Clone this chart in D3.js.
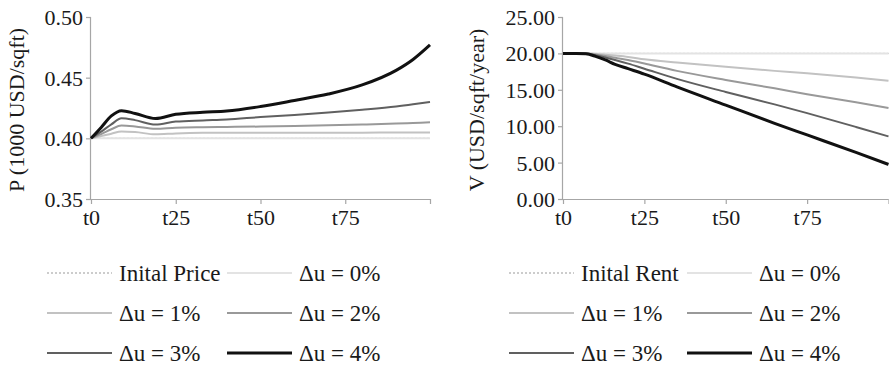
<!DOCTYPE html>
<html><head><meta charset="utf-8">
<script src="https://cdn.jsdelivr.net/npm/d3@7"></script>
</head><body style="margin:0">
<svg id="c" width="889" height="368" font-family="Liberation Serif"></svg>
<script>
// ---- data ----
const seriesNames = ["Δu = 0%", "Δu = 1%", "Δu = 2%", "Δu = 3%", "Δu = 4%"];
const xTickLabels = ["t0", "t25", "t50", "t75"];
const xTickValues = [0, 25, 50, 75];

// Price chart (P, 1000 USD/sqft)
const priceT = [0, 3, 6, 9, 13, 19, 25, 33, 40, 50, 60, 70, 80, 90, 95, 100];
const initialPrice = [0.400,0.400,0.400,0.400,0.400,0.400,0.400,0.400,0.400,0.400,0.400,0.400,0.400,0.400,0.400,0.400];
const priceU0 = [0.400,0.400,0.400,0.400,0.400,0.400,0.400,0.400,0.400,0.400,0.400,0.400,0.400,0.400,0.400,0.400];
const priceU1 = [0.400,0.4018,0.4038,0.4057,0.4052,0.4033,0.4040,0.4045,0.4046,0.4046,0.4047,0.4047,0.4047,0.4048,0.4048,0.4048];
const priceU2 = [0.400,0.4035,0.4075,0.4105,0.4098,0.4078,0.4088,0.4092,0.4094,0.4097,0.4101,0.4107,0.4114,0.4122,0.4127,0.4132];
const priceU3 = [0.400,0.4055,0.4115,0.4165,0.4150,0.4113,0.4138,0.4148,0.4155,0.4175,0.4192,0.4212,0.4235,0.4262,0.4280,0.4300];
const priceU4 = [0.400,0.409,0.4185,0.4228,0.4205,0.4163,0.4198,0.4215,0.4225,0.4262,0.4312,0.4365,0.4440,0.4560,0.4650,0.4770];
const priceTicks = [0.35, 0.40, 0.45, 0.50];

// Rent chart (V, USD/sqft/year)
const rentT = [0, 4, 7, 10, 13, 16, 20, 25, 35, 50, 65, 75, 90, 100];
const initialRent = [20,20,20,20,20,20,20,20,20,20,20,20,20,20];
const rentU0 = [20,20,20,20,20,20,20,20,20,20,20,20,20,20];
const rentU1 = [20,20,20,19.93,19.82,19.7,19.52,19.2,18.75,18.15,17.6,17.27,16.7,16.25];
const rentU2 = [20,20,19.99,19.85,19.65,19.4,19.1,18.6,17.6,16.35,15.2,14.4,13.3,12.5];
const rentU3 = [20,20,19.98,19.75,19.45,19.1,18.6,17.9,16.5,14.7,13.0,11.8,9.9,8.6];
const rentU4 = [20,20,19.95,19.6,19.1,18.5,17.9,17.15,15.4,12.9,10.4,8.8,6.4,4.75];
const rentTicks = [0, 5, 10, 15, 20, 25];

// ---- styles ----
const styles = [
  {color:"#e3e3e3", w:2},
  {color:"#c2c2c2", w:2},
  {color:"#999999", w:2},
  {color:"#606060", w:2},
  {color:"#111111", w:3}
];
const svg = d3.select("#c");

function panel(opts) {
  const x = d3.scaleLinear().domain([0, 100]).range([opts.x0, opts.x1]);
  const y = d3.scaleLinear().domain(opts.yDomain).range([opts.yBottom, opts.yTop]);
  const g = svg.append("g");

  // axes
  const yAxis = d3.axisLeft(y).tickValues(opts.yTicks).tickSize(5).tickFormat(opts.fmt);
  const ya = g.append("g").attr("transform", `translate(${opts.x0},0)`).call(yAxis);
  const xAxis = d3.axisBottom(x).tickValues([0,25,50,75,100]).tickSize(5)
      .tickFormat(d => { const i = xTickValues.indexOf(d); return i >= 0 ? xTickLabels[i] : ""; });
  const xa = g.append("g").attr("transform", `translate(0,${opts.yBottom})`).call(xAxis);
  [ya, xa].forEach(a => {
    a.attr("font-family", null).attr("font-size", 22);
    a.select(".domain").attr("stroke", "#a6a6a6").attr("stroke-width", 1.2);
    a.selectAll(".tick line").attr("stroke", "#a6a6a6").attr("stroke-width", 1.2);
    a.selectAll("text").attr("fill", "#1a1a1a");
  });
  ya.select(".domain").attr("d", `M-0.5,${opts.yTop}V${opts.yBottom}`);
  ya.selectAll(".tick text").attr("x", -8).attr("dy", "0.34em");
  xa.selectAll(".tick text").attr("y", 9).attr("dy", "0.78em");
  xa.select(".domain").attr("d", `M${opts.x0},0.5H${opts.x1}`);

  // y title
  g.append("text")
    .attr("transform", `translate(${opts.titleX},${(opts.yTop+opts.yBottom)/2 + 2}) rotate(-90)`)
    .attr("text-anchor", "middle").attr("font-size", 22)
    .attr("fill", "#1a1a1a").text(opts.title);

  const line = d3.line().x((d, i) => x(opts.t[i])).y(d => y(d)).curve(d3.curveMonotoneX);
  // initial (dotted)
  g.append("path").attr("d", line(opts.initial)).attr("fill", "none")
    .attr("stroke", "#999").attr("stroke-width", 1).attr("stroke-dasharray", "2,2");
  opts.series.forEach((s, i) => {
    g.append("path").attr("d", line(s)).attr("fill", "none")
      .attr("stroke", styles[i].color).attr("stroke-width", styles[i].w)
      .attr("stroke-linejoin", "round");
  });

  // legend
  const items = [{name: opts.initialName, dotted: true}].concat(seriesNames.map((n, i) => ({name: n, st: styles[i]})));
  items.forEach((it, k) => {
    const col = k % 2, row = Math.floor(k / 2);
    const lx = opts.legX[col], ly = 273 + row * 40;
    const l = g.append("line").attr("x1", lx).attr("x2", lx + 65).attr("y1", ly).attr("y2", ly);
    if (it.dotted) l.attr("stroke", "#999").attr("stroke-width", 1).attr("stroke-dasharray", "2,2");
    else l.attr("stroke", it.st.color).attr("stroke-width", it.st.w);
    g.append("text").attr("x", lx + 72).attr("y", ly + 7.5)
      .attr("font-size", 23).attr("fill", "#1a1a1a").text(it.name);
  });
}

panel({
  x0: 91, x1: 430, yTop: 17, yBottom: 199, yDomain: [0.35, 0.50], yTicks: priceTicks,
  fmt: d3.format(".2f"), title: "P (1000 USD/sqft)", titleX: 24,
  t: priceT, initial: initialPrice, series: [priceU0, priceU1, priceU2, priceU3, priceU4],
  initialName: "Inital Price", legX: [47, 227]
});
panel({
  x0: 563, x1: 888.5, yTop: 17, yBottom: 199, yDomain: [0, 25], yTicks: rentTicks,
  fmt: d3.format(".2f"), title: "V (USD/sqft/year)", titleX: 484,
  t: rentT, initial: initialRent, series: [rentU0, rentU1, rentU2, rentU3, rentU4],
  initialName: "Inital Rent", legX: [509, 687]
});
</script>
</body></html>
